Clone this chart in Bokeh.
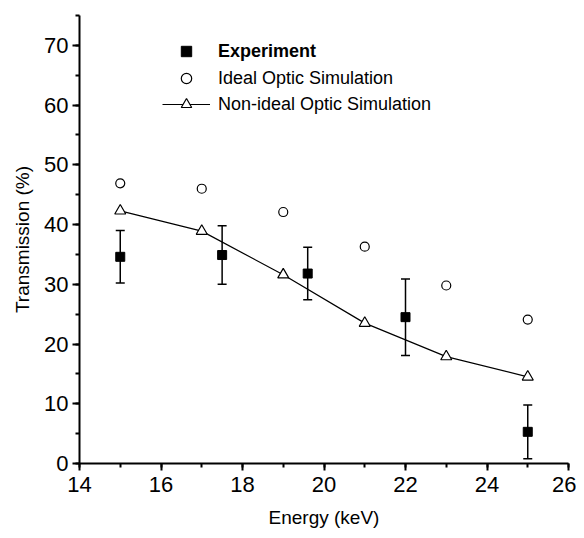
from bokeh.plotting import figure
from bokeh.models import (ColumnDataSource, Whisker, TeeHead, FixedTicker, Legend, LegendItem)
from bokeh.embed import file_html
from bokeh.resources import INLINE

# Data
exp_x = [15, 17.5, 19.6, 22, 25]
exp_y = [34.6, 34.9, 31.8, 24.5, 5.3]
exp_err = [4.4, 4.9, 4.4, 6.4, 4.5]

ideal_x = [15, 17, 19, 21, 23, 25]
ideal_y = [46.9, 46.0, 42.1, 36.3, 29.8, 24.1]

nonideal_x = [15, 17, 19, 21, 23, 25]
nonideal_y = [42.3, 38.9, 31.6, 23.5, 17.9, 14.5]

x_ticks = [14, 16, 18, 20, 22, 24, 26]
y_ticks = [0, 10, 20, 30, 40, 50, 60, 70]

FONT = "Liberation Sans"

p = figure(width=576, height=530, x_range=(14, 26), y_range=(0, 75),
           output_backend="svg", toolbar_location=None,
           min_border_left=79, min_border_right=8, min_border_top=15, min_border_bottom=66)
p.outline_line_color = None
p.xgrid.visible = False
p.ygrid.visible = False
p.background_fill_color = "white"

p.xaxis.ticker = FixedTicker(ticks=x_ticks, minor_ticks=list(range(14, 27)))
p.yaxis.ticker = FixedTicker(ticks=y_ticks, minor_ticks=list(range(0, 76, 5)))
for ax in (p.xaxis, p.yaxis):
    ax.axis_line_color = "black"
    ax.axis_line_width = 2
    ax.major_tick_line_width = 2
    ax.minor_tick_line_width = 2
    ax.major_tick_out = 7
    ax.major_tick_in = 0
    ax.minor_tick_out = 4
    ax.minor_tick_in = 0
    ax.major_label_text_font = FONT
    ax.major_label_text_font_size = "22px"
    ax.major_label_text_color = "black"
    ax.axis_label_text_font = FONT
    ax.axis_label_text_font_size = "19px"
    ax.axis_label_text_font_style = "normal"
    ax.axis_label_text_color = "black"
p.xaxis.axis_label = "Energy (keV)"
p.yaxis.axis_label = "Transmission (%)"
p.xaxis.major_label_standoff = 6
p.yaxis.major_label_standoff = 4
p.xaxis.axis_label_standoff = 12
p.yaxis.axis_label_standoff = 8

src_exp = ColumnDataSource(dict(x=exp_x, y=exp_y,
                                lo=[a - b for a, b in zip(exp_y, exp_err)],
                                hi=[a + b for a, b in zip(exp_y, exp_err)]))
w = Whisker(source=src_exp, base="x", upper="hi", lower="lo",
            line_color="black", line_width=1.5,
            upper_head=TeeHead(size=9, line_color="black", line_width=1.5),
            lower_head=TeeHead(size=9, line_color="black", line_width=1.5))
p.add_layout(w)

r_exp = p.scatter("x", "y", source=src_exp, marker="square", size=9,
                  fill_color="black", line_color="black")
r_ideal = p.scatter(ideal_x, ideal_y, marker="circle", size=9,
                    fill_color="white", line_color="black", line_width=1.2)
r_line = p.line(nonideal_x, nonideal_y, line_color="black", line_width=1.2)
r_tri = p.scatter(nonideal_x, nonideal_y, marker="triangle", size=11,
                  fill_color="white", line_color="black", line_width=1.2)


def style(lg):
    lg.glyph_width = 48
    lg.glyph_height = 26
    lg.label_height = 26
    lg.spacing = 0
    lg.padding = 0
    lg.margin = 0
    lg.label_standoff = 8
    lg.border_line_color = None
    lg.background_fill_alpha = 0
    lg.label_text_font = FONT
    lg.label_text_font_size = "18px"
    lg.label_text_color = "black"


legend1 = Legend(items=[LegendItem(label="Experiment", renderers=[r_exp])],
                 location=(83, 399))
style(legend1)
legend1.label_text_font_style = "bold"
legend2 = Legend(items=[
    LegendItem(label="Ideal Optic Simulation", renderers=[r_ideal]),
    LegendItem(label="Non-ideal Optic Simulation", renderers=[r_line, r_tri]),
], location=(83, 346))
style(legend2)
p.add_layout(legend1)
p.add_layout(legend2)

open("out.html", "w").write(file_html(p, INLINE))
